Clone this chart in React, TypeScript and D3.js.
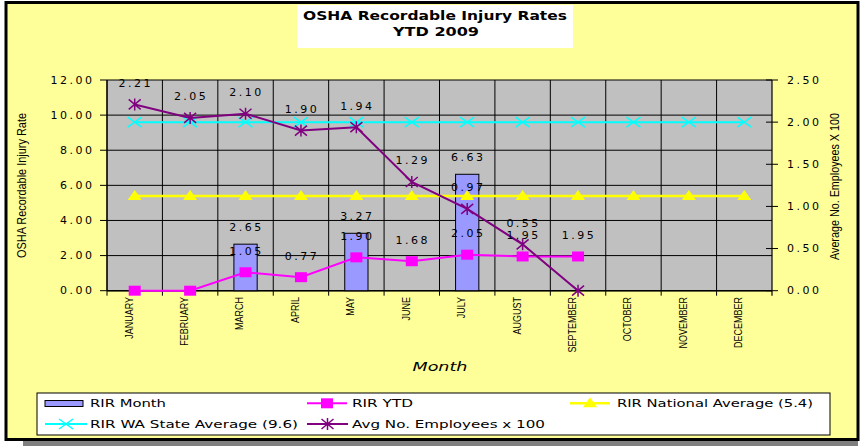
import React from "react";
import * as d3 from "d3";

const months = ["JANUARY","FEBRUARY","MARCH","APRIL","MAY","JUNE","JULY","AUGUST","SEPTEMBER","OCTOBER","NOVEMBER","DECEMBER"];
const rirMonth: (number | null)[] = [null, null, 2.65, null, 3.27, null, 6.63, null, null, null, null, null];
const rirYtd: (number | null)[] = [0, 0, 1.05, 0.77, 1.90, 1.68, 2.05, 1.95, 1.95, null, null, null];
const nationalAvg: number[] = [5.4, 5.4, 5.4, 5.4, 5.4, 5.4, 5.4, 5.4, 5.4, 5.4, 5.4, 5.4];
const waStateAvg: number[] = [9.6, 9.6, 9.6, 9.6, 9.6, 9.6, 9.6, 9.6, 9.6, 9.6, 9.6, 9.6];
const avgEmployees: (number | null)[] = [2.21, 2.05, 2.10, 1.90, 1.94, 1.29, 0.97, 0.55, 0.00, null, null, null];
const leftTicks = [0, 2, 4, 6, 8, 10, 12];
const rightTicks = [0, 0.5, 1, 1.5, 2, 2.5];

const NUM_FONT = "'DejaVu Sans', Verdana, sans-serif";
const ARIAL = "'Liberation Sans', Arial, sans-serif";

const L = 107, R = 772, T = 80, B = 290.7;

export default function App() {
  const x = d3.scaleBand<string>().domain(months).range([L, R]).padding(0);
  const yL = d3.scaleLinear().domain([0, 12]).range([B, T]);
  const yR = d3.scaleLinear().domain([0, 2.5]).range([B, T]);
  const cx = (i: number) => (x(months[i]) as number) + x.bandwidth() / 2;
  const bw = x.bandwidth() * 0.42;

  const lineGen = (ys: (number | null)[], scale: d3.ScaleLinear<number, number>) =>
    d3.line<number | null>()
      .defined((d) => d !== null)
      .x((_, i) => cx(i))
      .y((d) => scale(d as number))(ys) || "";

  const square = (px: number, py: number, k: string) => (
    <rect key={k} x={px - 6} y={py - 5} width={12} height={10} fill="#FF00FF" />
  );
  const triangle = (px: number, py: number, k: string) => (
    <path key={k} d={`M${px},${py - 6}L${px + 7},${py + 4}L${px - 7},${py + 4}Z`} fill="#FFFF00" />
  );
  const cross = (px: number, py: number, k: string) => (
    <path key={k} d={`M${px - 7},${py - 5}L${px + 7},${py + 5}M${px - 7},${py + 5}L${px + 7},${py - 5}`} stroke="#00FFFF" strokeWidth={1.5} fill="none" />
  );
  const star = (px: number, py: number, k: string) => (
    <path key={k} d={`M${px - 6},${py - 5}L${px + 6},${py + 5}M${px - 6},${py + 5}L${px + 6},${py - 5}M${px},${py - 6}L${px},${py + 6}`} stroke="#800080" strokeWidth={1.5} fill="none" />
  );

  const numStyle = { fontFamily: NUM_FONT, fontSize: 11, letterSpacing: 2.5, fill: "#000" } as const;

  return (
    <svg width={862} height={446} style={{ position: "absolute", left: 0, top: 0 }}>
      {/* frame */}
      <rect x={23} y={441} width={835} height={5} fill="#808080" />
      <rect x={6} y={2.5} width={852} height={437} fill="#FFFF99" stroke="#000" strokeWidth={3} />

      {/* title */}
      <rect x={297} y={5} width={276} height={43} fill="#fff" />
      <text x={435} y={19.5} textAnchor="middle" fontFamily={NUM_FONT} fontWeight="bold" fontSize={13} textLength={264} lengthAdjust="spacingAndGlyphs">OSHA Recordable Injury Rates</text>
      <text x={436} y={36} textAnchor="middle" fontFamily={NUM_FONT} fontWeight="bold" fontSize={13} textLength={86} lengthAdjust="spacingAndGlyphs">YTD 2009</text>

      {/* plot area */}
      <rect x={L} y={T} width={R - L} height={B - T} fill="#C0C0C0" />
      {leftTicks.map((t) => (
        <line key={"g" + t} x1={L} x2={R} y1={yL(t)} y2={yL(t)} stroke="#000" strokeWidth={1} />
      ))}
      {months.map((m) => (
        <line key={"v" + m} x1={(x(m) as number)} x2={(x(m) as number)} y1={T} y2={B + 5} stroke="#000" strokeWidth={1} />
      ))}
      <line x1={R} x2={R} y1={T} y2={B + 5} stroke="#000" strokeWidth={1.2} />
      <line x1={L} x2={L} y1={T} y2={B} stroke="#000" strokeWidth={1.2} />
      <line x1={L} x2={R} y1={B} y2={B} stroke="#000" strokeWidth={1.5} />

      {/* left axis */}
      {leftTicks.map((t) => (
        <g key={"lt" + t}>
          <line x1={L - 7} x2={L} y1={yL(t)} y2={yL(t)} stroke="#000" />
          <text x={94.5} y={yL(t)} textAnchor="end" dominantBaseline="central" {...numStyle}>{t.toFixed(2)}</text>
        </g>
      ))}
      {/* right axis */}
      {rightTicks.map((t) => (
        <g key={"rt" + t}>
          <line x1={R - 6} x2={R + 6} y1={yR(t)} y2={yR(t)} stroke="#000" />
          <text x={787} y={yR(t)} textAnchor="start" dominantBaseline="central" {...numStyle}>{t.toFixed(2)}</text>
        </g>
      ))}

      {/* axis titles */}
      <text transform="translate(21.5,185.5) rotate(-90) scale(1,1.25)" textAnchor="middle" dominantBaseline="central" fontFamily={ARIAL} fontSize={9.5} textLength={145} lengthAdjust="spacingAndGlyphs">OSHA Recordable Injury Rate</text>
      <text transform="translate(835,186.5) rotate(-90) scale(1,1.25)" textAnchor="middle" dominantBaseline="central" fontFamily={ARIAL} fontSize={9.5} textLength={147} lengthAdjust="spacingAndGlyphs">Average No. Employees X 100</text>
      <text x={440} y={371} textAnchor="middle" fontFamily={NUM_FONT} fontStyle="italic" fontSize={13} textLength={55} lengthAdjust="spacingAndGlyphs">Month</text>

      {/* x labels */}
      {months.map((m, i) => (
        <text key={"xl" + m} transform={`translate(${cx(i) - 6},297) rotate(-90) scale(1,1.3)`} textAnchor="end" dominantBaseline="central" fontFamily={ARIAL} fontSize={9}>{m}</text>
      ))}

      {/* bars */}
      {rirMonth.map((v, i) =>
        v === null ? null : (
          <rect key={"b" + i} x={cx(i) - bw / 2} y={yL(v)} width={bw} height={B - yL(v)} fill="#9999FF" stroke="#000" strokeWidth={1} />
        )
      )}

      {/* lines */}
      <path d={lineGen(rirYtd, yL)} fill="none" stroke="#FF00FF" strokeWidth={2} />
      {rirYtd.map((v, i) => (v === null ? null : square(cx(i), yL(v), "sq" + i)))}
      <path d={lineGen(nationalAvg, yL)} fill="none" stroke="#FFFF00" strokeWidth={2.5} />
      {nationalAvg.map((v, i) => triangle(cx(i), yL(v), "tr" + i))}
      <path d={lineGen(waStateAvg, yL)} fill="none" stroke="#00FFFF" strokeWidth={2} />
      {waStateAvg.map((v, i) => cross(cx(i), yL(v), "cr" + i))}
      <path d={lineGen(avgEmployees, yR)} fill="none" stroke="#800080" strokeWidth={2} />
      {avgEmployees.map((v, i) => (v === null ? null : star(cx(i), yR(v), "st" + i)))}

      {/* data labels */}
      {rirMonth.map((v, i) =>
        v === null ? null : (
          <text key={"bl" + i} x={cx(i) + 1} y={yL(v) - 17} textAnchor="middle" dominantBaseline="central" {...numStyle}>{v.toFixed(2)}</text>
        )
      )}
      {rirYtd.map((v, i) =>
        v === null || v === 0 ? null : (
          <text key={"yl" + i} x={cx(i) + 1} y={yL(v) - 21} textAnchor="middle" dominantBaseline="central" {...numStyle}>{v.toFixed(2)}</text>
        )
      )}
      {avgEmployees.map((v, i) =>
        v === null || v === 0 ? null : (
          <text key={"el" + i} x={cx(i) + 1} y={yR(v) - 21} textAnchor="middle" dominantBaseline="central" {...numStyle}>{v.toFixed(2)}</text>
        )
      )}

      {/* legend */}
      <rect x={37} y={393} width={793} height={42} fill="#fff" stroke="#000" strokeWidth={1} />
      <rect x={45} y={400.5} width={38} height={6} fill="#9999FF" stroke="#000" strokeWidth={1} />
      <text x={90} y={406.5} fontFamily={NUM_FONT} fontSize={10.5} textLength={76} lengthAdjust="spacingAndGlyphs">RIR Month</text>

      <line x1={307} x2={347} y1={403.3} y2={403.3} stroke="#FF00FF" strokeWidth={2} />
      {square(327, 403.3, "lsq")}
      <text x={352} y={406.5} fontFamily={NUM_FONT} fontSize={10.5} textLength={61} lengthAdjust="spacingAndGlyphs">RIR YTD</text>

      <line x1={570} x2={610} y1={403.3} y2={403.3} stroke="#FFFF00" strokeWidth={2.5} />
      {triangle(590, 403.3, "ltr")}
      <text x={617} y={406.5} fontFamily={NUM_FONT} fontSize={10.5} textLength={196} lengthAdjust="spacingAndGlyphs">RIR National Average (5.4)</text>

      <line x1={45} x2={87} y1={424} y2={424} stroke="#00FFFF" strokeWidth={2} />
      {cross(66, 424, "lcr")}
      <text x={90} y={427.5} fontFamily={NUM_FONT} fontSize={10.5} textLength={208} lengthAdjust="spacingAndGlyphs">RIR WA State Average (9.6)</text>

      <line x1={307} x2={348} y1={424} y2={424} stroke="#800080" strokeWidth={2} />
      {star(327.5, 424, "lst")}
      <text x={352} y={427.5} fontFamily={NUM_FONT} fontSize={10.5} textLength={193} lengthAdjust="spacingAndGlyphs">Avg No. Employees x 100</text>
    </svg>
  );
}
